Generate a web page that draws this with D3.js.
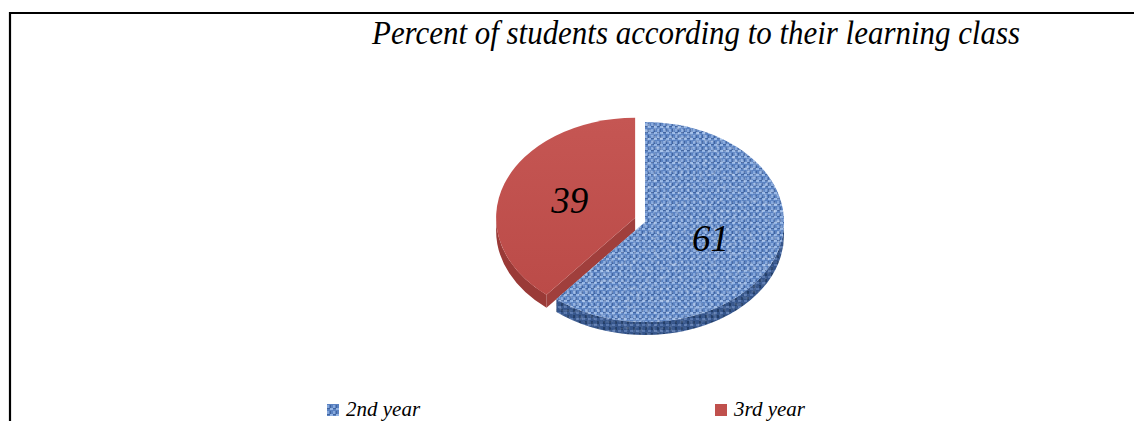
<!DOCTYPE html>
<html><head><meta charset="utf-8">
<script src="https://cdn.jsdelivr.net/npm/d3@7"></script>
<style>html,body{margin:0;padding:0;background:#fff;}svg{display:block;}</style>
</head><body>
<svg id="chart" width="1134" height="421"></svg>
<script>
const title = "Percent of students according to their learning class";
const categories = ["2nd year", "3rd year"];
const values = [61, 39];
const labels = ["61", "39"];

const W = 1134, H = 421;
const FONT = '"Liberation Serif"';
const svg = d3.select("#chart");
const defs = svg.append("defs");

// woven texture for the blue slice
const pat = defs.append("pattern").attr("id","weave").attr("patternUnits","userSpaceOnUse")
  .attr("width",6).attr("height",6);
pat.append("rect").attr("width",6).attr("height",6).attr("fill","#5a82c2");
pat.append("rect").attr("x",0).attr("y",0).attr("width",3).attr("height",2).attr("fill","#93b4e4");
pat.append("rect").attr("x",3).attr("y",3).attr("width",2).attr("height",3).attr("fill","#86a8dc");
pat.append("rect").attr("x",3).attr("y",0).attr("width",3).attr("height",1).attr("fill","#41649f");
pat.append("rect").attr("x",0).attr("y",3).attr("width",1).attr("height",3).attr("fill","#41649f");
const patD = defs.append("pattern").attr("id","weaveDark").attr("patternUnits","userSpaceOnUse")
  .attr("width",6).attr("height",6);
patD.append("rect").attr("width",6).attr("height",6).attr("fill","#34548a");
patD.append("rect").attr("x",0).attr("y",0).attr("width",3).attr("height",2).attr("fill","#5676ad");
patD.append("rect").attr("x",3).attr("y",3).attr("width",2).attr("height",3).attr("fill","#233e68");

const f = defs.append("filter").attr("id","grain").attr("x",0).attr("y",0).attr("width",1).attr("height",1);
f.append("feTurbulence").attr("type","fractalNoise").attr("baseFrequency","0.3").attr("numOctaves",2).attr("seed",3).attr("result","n");
f.append("feColorMatrix").attr("in","n").attr("type","matrix")
  .attr("values","0 0 0 0 1  0 0 0 0 1  0 0 0 0 1  0 0 0 -2.2 1.25").attr("result","w");
f.append("feComposite").attr("in","w").attr("in2","SourceGraphic").attr("operator","in");

const redGrad = defs.append("linearGradient").attr("id","redTop").attr("x1",0).attr("y1",0).attr("x2",0).attr("y2",1);
redGrad.append("stop").attr("offset","0%").attr("stop-color","#c55653");
redGrad.append("stop").attr("offset","100%").attr("stop-color","#bb4b48");

// frame
svg.append("line").attr("x1",10).attr("y1",13).attr("x2",W).attr("y2",13).attr("stroke","#000").attr("stroke-width",2);
svg.append("line").attr("x1",10).attr("y1",12).attr("x2",10).attr("y2",H).attr("stroke","#000").attr("stroke-width",2.2);

function serif(sel, size){ return sel.style("font-family",FONT).style("font-style","italic").style("font-size",size+"px").attr("fill","#000"); }

// title
serif(svg.append("text").attr("x",372).attr("y",44), 33)
  .attr("textLength",648).attr("lengthAdjust","spacingAndGlyphs").text(title);

// pie geometry
const cx = 645, cy = 222, rx = 139, ry = 100, depth = 13;
const rX = d3.scaleLinear().domain([0,1]).range([0,rx]);
const rY = d3.scaleLinear().domain([0,1]).range([0,ry]);
const pie = d3.pie().sort(null).value(d => d)(values);
const topFill = ["url(#weave)", "url(#redTop)"];
const sideFill = ["url(#weaveDark)", "#9a3a37"];
const cutFill = ["#3a5a90", "#a03f3c"];
const explode = [0, 10.5];

function pt(a, ox, oy, dz, f=1){ return [ox + rX(f)*Math.sin(a), oy - rY(f)*Math.cos(a) + dz]; }

const sides = svg.append("g"), tops = svg.append("g"), labs = svg.append("g");

pie.forEach((s, i) => {
  const mid = (s.startAngle + s.endAngle)/2;
  const ox = cx + explode[i]*Math.sin(mid);
  const oy = cy - explode[i]*Math.cos(mid)*1.2;
  const a0 = s.startAngle, a1 = s.endAngle;
  [[a0, -1],[a1, 1]].forEach(([a, dir]) => {
    const normalCos = Math.cos(a + dir*Math.PI/2);
    if (normalCos < -0.05) {
      const p = pt(a, ox, oy, 0);
      const path = `M${ox},${oy} L${p[0]},${p[1]} L${p[0]},${p[1]+depth} L${ox},${oy+depth} Z`;
      sides.append("path").attr("d",path).attr("fill",cutFill[i]);
    }
  });
  const s0 = Math.max(a0, Math.PI/2), s1 = Math.min(a1, 3*Math.PI/2);
  if (s1 > s0) {
    const p0 = pt(s0, ox, oy, 0), p1 = pt(s1, ox, oy, 0);
    const large = (s1 - s0) > Math.PI ? 1 : 0;
    const path = `M${p0[0]},${p0[1]} A${rx},${ry} 0 ${large} 1 ${p1[0]},${p1[1]} L${p1[0]},${p1[1]+depth} A${rx},${ry} 0 ${large} 0 ${p0[0]},${p0[1]+depth} Z`;
    sides.append("path").attr("d",path).attr("fill",sideFill[i]);
    if (i===0) sides.append("path").attr("d",path).attr("fill","#fff").attr("filter","url(#grain)").attr("opacity",0.2);
  }
  const q0 = pt(a0, ox, oy, 0), q1 = pt(a1, ox, oy, 0);
  const large = (a1 - a0) > Math.PI ? 1 : 0;
  const tp = `M${ox},${oy} L${q0[0]},${q0[1]} A${rx},${ry} 0 ${large} 1 ${q1[0]},${q1[1]} Z`;
  tops.append("path").attr("d",tp).attr("fill",topFill[i]);
  if (i===0) tops.append("path").attr("d",tp).attr("fill","#fff").attr("filter","url(#grain)").attr("opacity",0.4);
  const lp = pt(mid, ox, oy, 0, 0.5);
  serif(labs.append("text").attr("x",lp[0]).attr("y",lp[1]+12).attr("text-anchor","middle"), 37)
    .text(labels[i]);
});

// legend
const legX = [327, 715];
const leg = svg.append("g");
categories.forEach((c, i) => {
  leg.append("rect").attr("x",legX[i]).attr("y",404).attr("width",12).attr("height",12)
    .attr("fill", i===0 ? "url(#weave)" : "#c0504d");
  serif(leg.append("text").attr("x",legX[i]+19).attr("y",416), 21).text(c);
});
</script>
</body></html>
